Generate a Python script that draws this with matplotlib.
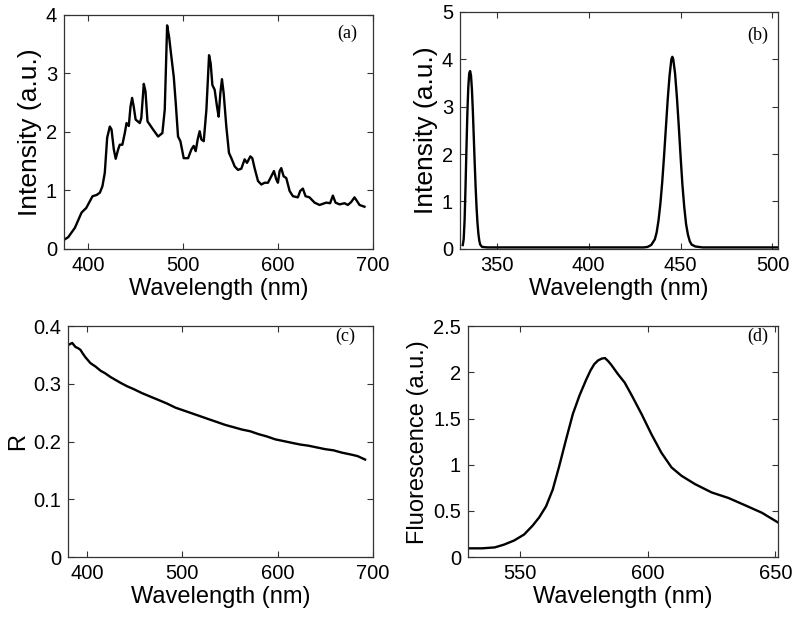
import matplotlib
matplotlib.use('Agg')
import matplotlib.pyplot as plt

# (a) lamp spectrum
wl_a = [374.6, 379, 386, 393, 398, 404.6, 408.8, 412.3, 415, 417.5, 420, 422.8, 424.6,
        427, 429, 431.6, 433.3, 436, 438.6, 440.4, 442.8, 444.6, 446.3, 448, 450,
        454.4, 456, 458.6, 460.4, 462.5, 465, 468.4, 473.7, 478.2, 480.7, 483.2,
        485.3, 487.7, 490.2, 492.3, 494.7, 497.2, 500.7, 505.3, 508.8, 511.2, 513.3,
        515.4, 517.5, 519.3, 521.8, 524.6, 527.4, 529.1, 530.9, 533.3, 535.8, 537.5,
        539.3, 541, 542.8, 545.6, 548.4, 550.9, 554.4, 557.9, 561.4, 564.9, 567.4,
        570.9, 573, 575.4, 579, 582.5, 586, 589.5, 593, 595.8, 598.2, 600, 601.8,
        603.5, 606, 608.8, 612.3, 615.8, 621, 623.5, 626.3, 629.1, 633.3, 638.6,
        643.9, 650.9, 655, 657.9, 660.7, 665, 670.2, 673.7, 677.2, 680.7, 683.2,
        686, 691.2]
int_a = [0.155, 0.20, 0.36, 0.62, 0.70, 0.90, 0.92, 0.96, 1.07, 1.30, 1.90, 2.09, 2.04,
         1.70, 1.54, 1.70, 1.78, 1.78, 1.98, 2.15, 2.10, 2.43, 2.58, 2.43, 2.21,
         2.15, 2.24, 2.82, 2.69, 2.18, 2.12, 2.04, 1.92, 1.98, 2.38, 3.82,
         3.62, 3.28, 2.94, 2.49, 1.92, 1.84, 1.55, 1.55, 1.70, 1.76, 1.67,
         1.87, 2.01, 1.87, 1.84, 2.38, 3.31, 3.17, 2.80, 2.72, 2.43, 2.26,
         2.66, 2.90, 2.66, 2.09, 1.64, 1.55, 1.41, 1.35, 1.37, 1.53, 1.47,
         1.58, 1.55, 1.38, 1.16, 1.10, 1.13, 1.13, 1.24, 1.33, 1.19, 1.13, 1.33,
         1.38, 1.24, 1.21, 0.99, 0.90, 0.88, 0.99, 1.03, 0.90, 0.88, 0.79,
         0.75, 0.79, 0.78, 0.91, 0.79, 0.76, 0.78, 0.75, 0.80, 0.88, 0.82,
         0.75, 0.72]

# (b) two narrow sources
wl_b = [331.5, 332.0, 332.5, 333.0, 333.5, 334.0, 334.5, 335.0, 335.5, 336.0, 336.5,
        337.0, 337.5, 338.0, 338.5, 339.0, 339.5, 340.0, 340.5, 341.0, 342.0, 345,
        380, 430, 432, 434, 436, 437, 438, 439, 440, 441, 442, 443, 444, 445, 445.5,
        446, 447, 448, 449, 450, 451, 452, 453, 454, 455, 456, 458, 462, 503]
int_b = [0.08, 0.20, 0.60, 1.30, 2.10, 2.85, 3.40, 3.70, 3.75, 3.65, 3.35,
         2.90, 2.35, 1.80, 1.30, 0.88, 0.55, 0.32, 0.17, 0.09, 0.04, 0.03,
         0.03, 0.03, 0.04, 0.08, 0.20, 0.35, 0.60, 0.95, 1.40, 1.95, 2.55, 3.15, 3.65, 4.00, 4.05,
         4.00, 3.70, 3.20, 2.60, 1.95, 1.35, 0.88, 0.52, 0.30, 0.16, 0.09, 0.05, 0.03, 0.03]

# (c) reflectance
wl_c = [380.9, 384.4, 387.9, 390.5, 393.1, 395.8, 398.4, 403.6, 409, 414.1, 419.4, 424.6,
        429.8, 435.1, 442, 449, 457.8, 466.5, 475.3, 484, 492.7, 501.4, 510.2, 518.9,
        527.6, 536.4, 545.1, 553.9, 562.6, 571.3, 580.1, 588.8, 597.6, 606.3, 615,
        623.8, 632.5, 641.2, 650, 658.7, 667.5, 676.2, 684, 691.9]
r_c = [0.368, 0.371, 0.364, 0.362, 0.359, 0.352, 0.346, 0.336, 0.330, 0.323, 0.318, 0.312,
       0.307, 0.302, 0.296, 0.291, 0.284, 0.278, 0.272, 0.266, 0.259, 0.254, 0.249, 0.244,
       0.239, 0.234, 0.229, 0.225, 0.221, 0.218, 0.213, 0.209, 0.204, 0.201, 0.198,
       0.195, 0.193, 0.190, 0.187, 0.185, 0.181, 0.178, 0.175, 0.169]

# (d) fluorescence
wl_d = [529.5, 535, 540, 543.6, 547.6, 551.5, 554.8, 557.4, 560.1, 562.7, 565.3, 567.9,
        570.6, 573.2, 575.8, 577.5, 579.0, 580.5, 582.0, 583.2, 584.5, 585.7, 588.3,
        590.9, 593.5, 597.5, 601.4, 605.3, 609.3, 613.2, 618.5, 625.0, 631.6, 638.2,
        644.7, 651.3]
fl_d = [0.095, 0.095, 0.105, 0.135, 0.18, 0.245, 0.34, 0.43, 0.55, 0.73, 0.99, 1.27,
        1.55, 1.75, 1.92, 2.02, 2.09, 2.13, 2.15, 2.155, 2.12, 2.08, 1.98,
        1.89, 1.76, 1.55, 1.33, 1.13, 0.97, 0.88, 0.79, 0.70, 0.64, 0.56,
        0.48, 0.37]

plt.rcParams['font.family'] = ['Liberation Sans', 'DejaVu Sans']

fig = plt.figure(figsize=(8, 6.19), dpi=100)

panels = [
    # rect, x, y, xlim, ylim, xticks, yticks, ylabel, label size, tag, tagpos
    ([0.080, 0.598, 0.386, 0.378], wl_a, int_a, (374.5, 700), (0, 4),
     [400, 500, 600, 700], [0, 1, 2, 3, 4], 'Intensity (a.u.)', 19, '(a)', (0.916, 0.923)),
    ([0.575, 0.598, 0.3975, 0.383], wl_b, int_b, (330, 503), (0, 5),
     [350, 400, 450, 500], [0, 1, 2, 3, 4, 5], 'Intensity (a.u.)', 19, '(b)', (0.937, 0.90)),
    ([0.085, 0.100, 0.381, 0.373], wl_c, r_c, (380, 700), (0, 0.4),
     [400, 500, 600, 700], [0, 0.1, 0.2, 0.3, 0.4], 'R', 17, '(c)', (0.908, 0.955)),
    ([0.585, 0.100, 0.3875, 0.373], wl_d, fl_d, (529.5, 651), (0, 2.5),
     [550, 600, 650], [0, 0.5, 1, 1.5, 2, 2.5], 'Fluorescence (a.u.)', 17, '(d)', (0.935, 0.955)),
]

for rect, x, y, xl, yl, xt, yt, ylab, ysize, tag, tp in panels:
    ax = fig.add_axes(rect)
    ax.plot(x, y, color='black', linewidth=1.7)
    ax.set_xlim(*xl)
    ax.set_ylim(*yl)
    ax.set_xticks(xt)
    ax.set_yticks(yt)
    ax.set_yticklabels([('%g' % v) for v in yt])
    ax.tick_params(direction='in', top=True, right=True, length=4, width=0.8,
                   labelsize=14.5, pad=5, color='#333333')
    for s in ax.spines.values():
        s.set_color('#333333')
        s.set_linewidth(0.9)
    ax.set_xlabel('Wavelength (nm)', fontsize=17, labelpad=2)
    ax.set_ylabel(ylab, fontsize=ysize, labelpad=3)
    ax.text(tp[0], tp[1], tag, transform=ax.transAxes, ha='center', va='center',
            fontsize=13, family='Liberation Serif')

fig.savefig('out.png', dpi=100)
